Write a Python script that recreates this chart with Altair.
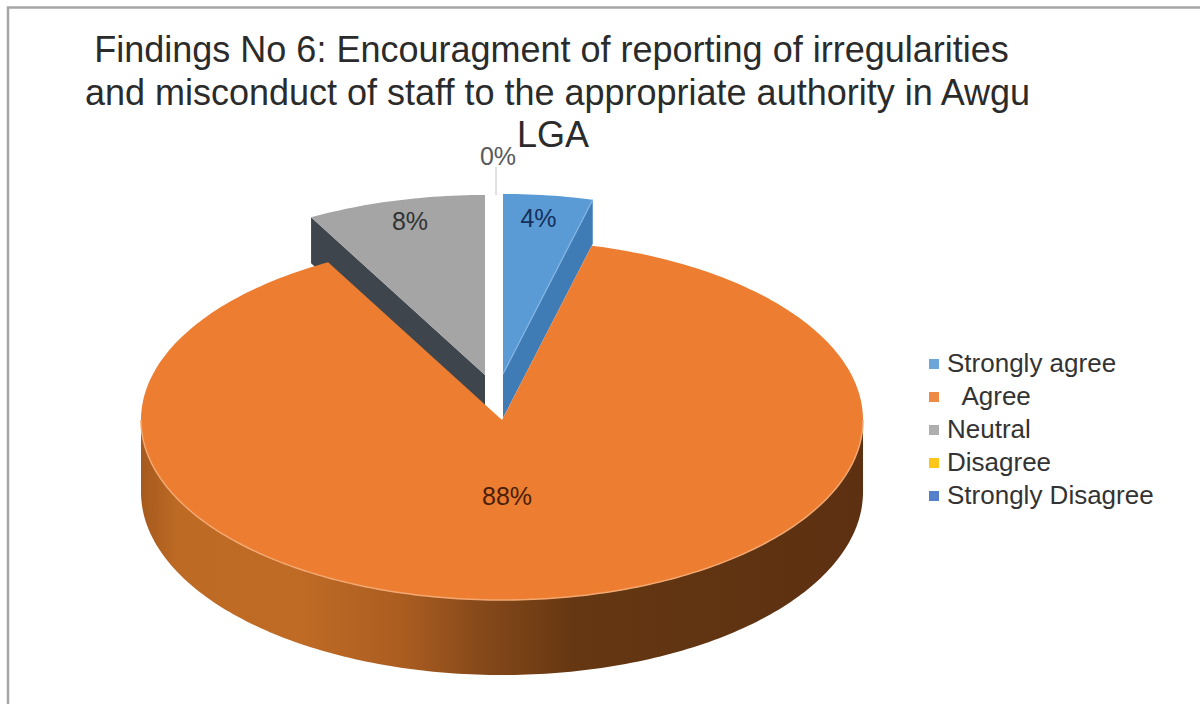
import math
import altair as alt

# Survey responses, in percent; the zero-width character keeps the indent of "Agree"
categories = ["Strongly agree", "\u200b\u00a0\u00a0Agree", "Neutral", "Disagree", "Strongly Disagree"]
shares = [4, 88, 8, 0, 0]
palette = ["#5b9bd5", "#ed7d31", "#a5a5a5", "#ffc000", "#4472c4"]

title_lines = [
    "Findings No 6: Encouragment of reporting of irregularities",
    "and misconduct of staff to the appropriate authority in Awgu",
    "LGA",
]
title_font_size = 36

# Tilted pie geometry: ellipse radii and wall depth (back and front of the pie)
CX, CY, RX, RY = 502, 420, 361, 180
DEPTH_BACK, DEPTH_FRONT = 69, 75
EXPLODE = {"Strongly agree": (1, -46), "Neutral": (-17, -45)}
FONT = "Liberation Sans"


def rim(angle_deg, center, drop=0.0):
    a = math.radians(angle_deg)
    return [center[0] + RX * math.sin(a), center[1] - RY * math.cos(a) + drop]


def wall_depth(angle_deg):
    c = math.cos(math.radians(angle_deg))
    return (DEPTH_BACK + DEPTH_FRONT) / 2 + (DEPTH_BACK - DEPTH_FRONT) / 2 * c


def sweep(start, end, step=1.0):
    n = max(1, int(abs(end - start) / step))
    return [start + (end - start) * i / n for i in range(n + 1)]


def polygon(points, category=""):
    closed = points + [points[0]]
    return {
        "type": "Feature",
        "properties": {"category": category},
        "geometry": {"type": "Polygon", "coordinates": [closed]},
    }


def polyline(points):
    return {
        "type": "Feature",
        "properties": {},
        "geometry": {"type": "LineString", "coordinates": points},
    }


# Slice angles follow directly from the shares
spans = {}
start = 0.0
for name, share in zip(categories, shares):
    spans[name] = (start, start + share * 3.6)
    start += share * 3.6


def shape(features, **mark):
    return (
        alt.Chart(alt.Data(values=features))
        .mark_geoshape(**mark)
        .project(type="identity", scale=1, translate=[0, 0])
    )


def face(name):
    a0, a1 = spans[name]
    dx, dy = EXPLODE.get(name, (0, 0))
    c = (CX + dx, CY + dy)
    return polygon([list(c)] + [rim(a, c) for a in sweep(a0, a1)], name)


# Walls of the two pulled-out slices
g0, g1 = spans["Neutral"]
gc = (CX + EXPLODE["Neutral"][0], CY + EXPLODE["Neutral"][1])
neutral_wall = polygon(
    [list(gc), rim(g0, gc), rim(g0, gc, 46), [gc[0], gc[1] + 46]]
)
b0, b1 = spans["Strongly agree"]
bc = (CX + EXPLODE["Strongly agree"][0], CY + EXPLODE["Strongly agree"][1])
agree_wall = polygon(
    [list(bc), rim(b1, bc), rim(b1, bc, 44), [bc[0], bc[1] + 44]]
)

# Curved wall of the large slice, shaded from left to right
front = sweep(90, 270)
orange_wall = polygon(
    [rim(a, (CX, CY)) for a in front]
    + [rim(a, (CX, CY), wall_depth(a)) for a in reversed(front)]
)
wall_shading = alt.Gradient(
    gradient="linear",
    x1=0, x2=1, y1=0, y2=0,
    stops=[
        alt.GradientStop(offset=0.0, color="#a65a1e"),
        alt.GradientStop(offset=0.05, color="#bd6a24"),
        alt.GradientStop(offset=0.22, color="#bf6b26"),
        alt.GradientStop(offset=0.36, color="#ab5d20"),
        alt.GradientStop(offset=0.47, color="#86491a"),
        alt.GradientStop(offset=0.60, color="#653712"),
        alt.GradientStop(offset=1.0, color="#5c3011"),
    ],
)

colour = alt.Color(
    "properties.category:N",
    scale=alt.Scale(domain=categories, range=palette),
    legend=alt.Legend(
        title=None,
        orient="none",
        legendX=921,
        legendY=351,
        symbolType="square",
        symbolSize=100,
        symbolStrokeWidth=0,
        symbolOpacity=0.9,
        labelFont=FONT,
        labelFontSize=26,
        labelColor="#333333",
        labelLimit=300,
        labelOffset=0,
        rowPadding=7,
    ),
)

faces = shape(
    [face("Neutral"), face("Strongly agree"), face(categories[1])]
).encode(color=colour)

layers = [
    shape([neutral_wall], fill="#3f454c"),
    shape([agree_wall], fill="#3f7cb5"),
    shape([orange_wall], fill=wall_shading),
    faces,
    shape(
        [polyline([rim(a, (CX, CY)) for a in front])],
        filled=False, stroke="#f3a871", strokeWidth=1.5,
    ),
    shape(
        [polyline([list(bc), rim(b1, bc)])],
        filled=False, stroke="#85b6e4", strokeWidth=1.2,
    ),
    # Leader line of the 0% label
    shape(
        [polyline([[496, 167], [496, 195]])],
        filled=False, stroke="#c4c4c4", strokeWidth=1,
    ),
]

# Outer frame of the figure: left and top edges
frame = shape(
    [polyline([[8, 704], [8, 7.5], [1200, 7.5]])],
    filled=False, stroke="#a6a6a6", strokeWidth=2.5,
)


def label(text, x, y, size, color, align="center"):
    return (
        alt.Chart(alt.Data(values=[{"t": text}]))
        .mark_text(font=FONT, fontSize=size, color=color, align=align, baseline="alphabetic")
        .encode(text="t:N", x=alt.value(x), y=alt.value(y))
    )


texts = [
    label(title_lines[0], 551.5, 62, title_font_size, "#2b2b2b"),
    label(title_lines[1], 557.5, 104.5, title_font_size, "#2b2b2b"),
    label(title_lines[2], 553, 147, title_font_size, "#2b2b2b"),
    label(f"{shares[0]}%", 538.5, 227, 25, "#15305a"),
    label(f"{shares[2]}%", 410, 230, 25, "#333333"),
    label(f"{shares[1]}%", 507, 505, 25, "#4a1f05"),
    label(f"{shares[3]}%", 498, 165, 25, "#595959"),
]

chart = (
    alt.layer(frame, *layers, *texts)
    .properties(
        width=1200,
        height=704,
        padding=0,
        autosize=alt.AutoSizeParams(type="none"),
        background="#ffffff",
    )
    .configure_view(stroke=None)
)

chart.save("out.html", embed_options={"renderer": "svg", "actions": False})
